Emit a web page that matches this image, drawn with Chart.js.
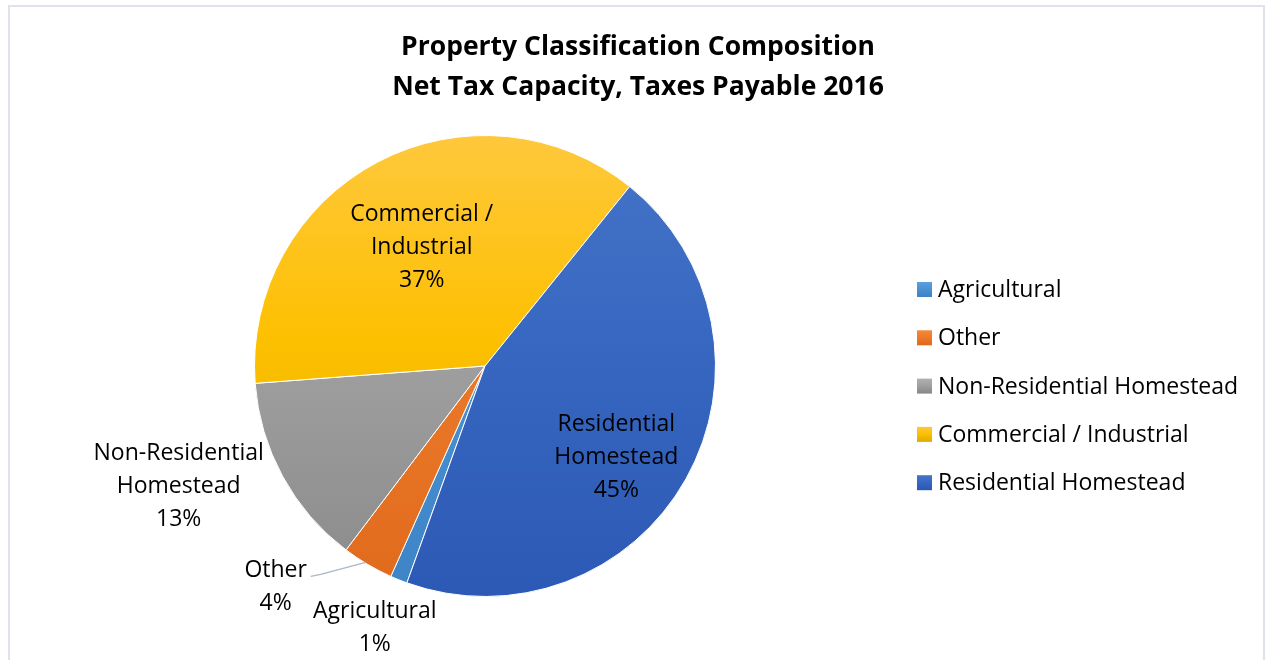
<!DOCTYPE html>
<html><head><meta charset="utf-8">
<script src="https://cdn.jsdelivr.net/npm/chart.js@4"></script>
<style>
html,body{margin:0;padding:0;background:#fff;overflow:hidden}
#frame{position:absolute;left:8px;top:5px;width:1257px;height:700px;border:2px solid #DEE3EA;box-sizing:border-box}
#wrap{position:absolute;left:0;top:0;width:1269px;height:660px}
</style></head><body>
<div id="frame"></div>
<div id="wrap"><canvas id="c" width="1269" height="660"></canvas></div>
<script>
const titleLines = ["Property Classification Composition", "Net Tax Capacity, Taxes Payable 2016"];
const categories = ["Agricultural", "Other", "Non-Residential Homestead", "Commercial / Industrial", "Residential Homestead"];
const labelLines = [["Agricultural"], ["Other"], ["Non-Residential", "Homestead"], ["Commercial /", "Industrial"], ["Residential", "Homestead"]];
const values = [1.2, 3.6, 13.5, 37.0, 44.7];
const percentLabels = ["1%", "4%", "13%", "37%", "45%"];
const colorTop = ["#5BA0DE", "#F68838", "#B0B0B0", "#FFC83C", "#4574C8"];
const colorMid = ["#4A92D3", "#EC7A2A", "#A0A0A0", "#FDC000", "#3767C0"];
const colorBottom = ["#3C84C6", "#E06A1C", "#8A8A8A", "#E2AD00", "#2C59B5"];

const FONT = "'Open Sans', Lato, sans-serif";
const LBL = 23;
const place = [
  {mode:'out', dx:-24, dy:47},
  {mode:'out', dx:-92, dy:21, leader:true},
  {mode:'out', dx:-104, dy:9},
  {mode:'in', f:0.59},
  {mode:'in', f:0.69, rot:5}
];

const deco = {
  id:'deco',
  afterDraw(chart){
    const ctx = chart.ctx;
    ctx.save();
    ctx.fillStyle = '#000';
    ctx.font = "bold 26.5px " + FONT;
    ctx.textAlign = 'center'; ctx.textBaseline = 'middle';
    ctx.fillText(titleLines[0], 638, 47);
    ctx.fillText(titleLines[1], 638, 87);
    const meta = chart.getDatasetMeta(0);
    meta.data.forEach((arc, i) => {
      const p = arc.getProps(['x','y','startAngle','endAngle','outerRadius'], true);
      let mid = (p.startAngle + p.endAngle) / 2;
      const pl = place[i];
      let cx, cy;
      if (pl.mode === 'in') {
        const a = mid + (pl.rot || 0) * Math.PI / 180;
        cx = p.x + Math.cos(a) * p.outerRadius * pl.f;
        cy = p.y + Math.sin(a) * p.outerRadius * pl.f;
      } else {
        const ex = p.x + Math.cos(mid) * p.outerRadius;
        const ey = p.y + Math.sin(mid) * p.outerRadius;
        cx = ex + pl.dx; cy = ey + pl.dy;
        if (pl.leader) {
          ctx.strokeStyle = '#A9B7CB'; ctx.lineWidth = 1.3;
          ctx.beginPath();
          ctx.moveTo(ex - 2, ey - 2);
          ctx.lineTo(cx + 45, cy - 11);
          ctx.lineTo(cx + 35, cy - 9);
          ctx.stroke();
        }
      }
      const lines = labelLines[i].concat([percentLabels[i]]);
      const lh = 33;
      ctx.font = LBL + "px " + FONT;
      ctx.fillStyle = '#000';
      ctx.textAlign = 'center'; ctx.textBaseline = 'middle';
      const y0 = cy - (lines.length - 1) * lh / 2 + 1.5;
      lines.forEach((t, k) => ctx.fillText(t, cx, y0 + k * lh));
    });
    const lx = 917, ly0 = 289, step = 48.3;
    categories.forEach((name, i) => {
      const y = ly0 + i * step;
      const g = ctx.createLinearGradient(0, y - 7, 0, y + 7);
      g.addColorStop(0, colorTop[i]); g.addColorStop(0.5, colorMid[i]); g.addColorStop(1, colorBottom[i]);
      ctx.fillStyle = g;
      ctx.fillRect(lx, y - 7, 15, 15);
      ctx.fillStyle = '#000';
      ctx.font = LBL + "px " + FONT;
      ctx.textAlign = 'left'; ctx.textBaseline = 'middle';
      ctx.fillText(name, 938, y + 1.5);
    });
    ctx.restore();
  }
};

function grad(ctx, i){
  const ch = ctx.chart; const a = ch.chartArea;
  if (!a) return colorMid[i];
  const g = ch.ctx.createLinearGradient(0, a.top, 0, a.bottom);
  g.addColorStop(0, colorTop[i]); g.addColorStop(0.45, colorMid[i]); g.addColorStop(1, colorBottom[i]);
  return g;
}

new Chart(document.getElementById('c'), {
  type: 'pie',
  data: {
    labels: categories,
    datasets: [{
      data: values,
      backgroundColor: (ctx) => grad(ctx, ctx.dataIndex),
      borderColor: '#fff',
      borderWidth: 1
    }]
  },
  options: {
    responsive: false,
    animation: false,
    rotation: 199.8,
    layout: { padding: { left: 254, right: 553, top: 135, bottom: 63 } },
    plugins: { legend: { display: false }, tooltip: { enabled: false }, title: { display: false } }
  },
  plugins: [deco]
});
</script>
</body></html>
